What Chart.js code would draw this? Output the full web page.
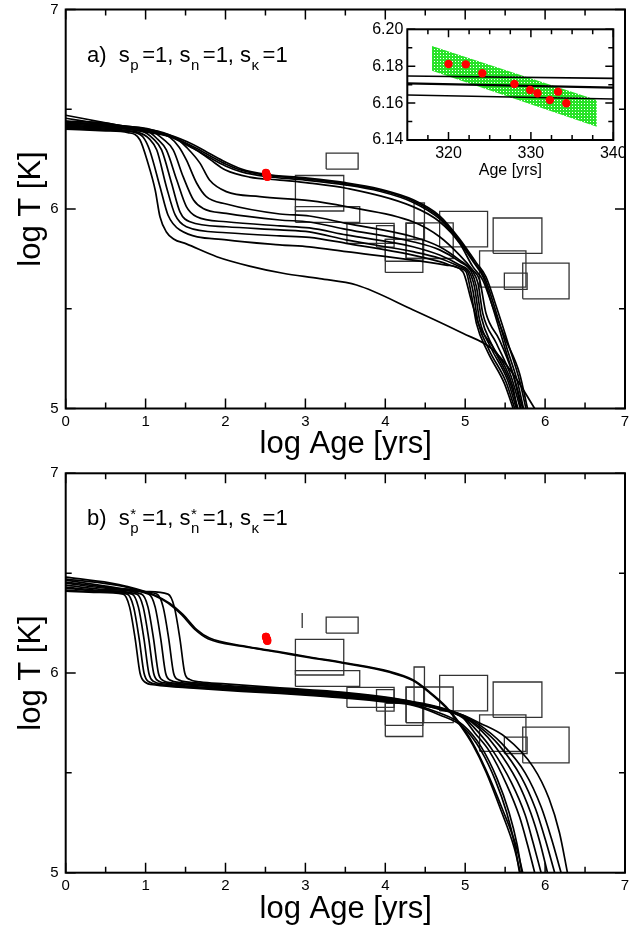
<!DOCTYPE html>
<html>
<head>
<meta charset="utf-8">
<script src="https://cdn.jsdelivr.net/npm/chart.js@4.4.1/dist/chart.umd.min.js"></script>
<style>
  body { margin: 0; background: #fff; }
  #wrap { position: relative; width: 629px; height: 930px; }
  #wrap canvas { position: absolute; }
</style>
</head>
<body>
<div id="wrap">
  <canvas id="panelA" width="629" height="465" style="left:0;top:0"></canvas>
  <canvas id="panelB" width="629" height="465" style="left:0;top:465px"></canvas>
  <canvas id="inset" width="285" height="175" style="left:340px;top:15px"></canvas>
</div>
<script>
// cooling tracks, [log Age, log T]
const tracksA_upper = [
  [[0,6.47],[0.5,6.432],[1.0,6.395],[1.3,6.37],[1.6,6.322],[1.8,6.278],[2.0,6.235],[2.2,6.2],[2.5,6.174],[3.0,6.156],[3.5,6.132],[3.93,6.1],[4.35,6.046],[4.68,5.966],[4.93,5.85],[5.14,5.73],[5.26,5.66],[5.39,5.51],[5.55,5.31],[5.68,5.14],[5.76,5.0]],
  [[0,6.455],[0.5,6.423],[1.0,6.39],[1.3,6.366],[1.6,6.312],[1.8,6.268],[2.0,6.226],[2.2,6.194],[2.5,6.170],[3.0,6.151],[3.5,6.127],[3.93,6.095],[4.35,6.04],[4.68,5.958],[4.93,5.842],[5.12,5.73],[5.24,5.66],[5.37,5.505],[5.52,5.305],[5.65,5.14],[5.73,5.0]],
  [[0,6.44],[0.5,6.415],[1.0,6.386],[1.3,6.362],[1.6,6.303],[1.8,6.258],[2.0,6.216],[2.2,6.186],[2.5,6.163],[3.0,6.145],[3.5,6.121],[3.93,6.089],[4.35,6.033],[4.68,5.95],[4.93,5.834],[5.11,5.73],[5.23,5.655],[5.35,5.5],[5.5,5.3],[5.62,5.14],[5.7,5.0]]
];
const tracksA_lower = [
  [[0,6.40],[0.5,6.392],[0.78,6.383],[0.93,6.346],[1.03,6.229],[1.12,6.095],[1.18,5.961],[1.26,5.885],[1.35,5.85],[1.51,5.825],[1.89,5.761],[2.30,5.714],[2.72,5.678],[3.18,5.651],[3.64,5.619],[4.35,5.494],[4.97,5.377],[5.325,5.302],[5.595,5.176],[5.87,5.0]],
  [[0,6.405],[0.5,6.395],[0.85,6.385],[0.97,6.36],[1.05,6.296],[1.18,6.112],[1.28,5.97],[1.43,5.895],[2.01,5.845],[2.68,5.82],[3.05,5.81],[3.51,5.786],[4.345,5.744],[4.76,5.719],[4.97,5.686],[5.075,5.544],[5.18,5.41],[5.345,5.31],[5.595,5.109],[5.65,5.0]],
  [[0,6.41],[0.5,6.40],[0.9,6.385],[1.05,6.35],[1.14,6.296],[1.26,6.112],[1.37,5.97],[1.51,5.911],[2.01,5.881],[2.68,5.865],[3.05,5.858],[3.51,5.828],[4.345,5.769],[4.68,5.736],[4.93,5.703],[5.01,5.686],[5.075,5.577],[5.14,5.427],[5.28,5.285],[5.49,5.126],[5.6,5.0]],
  [[0,6.415],[0.5,6.405],[0.95,6.39],[1.1,6.35],[1.2,6.296],[1.325,6.129],[1.43,5.986],[1.555,5.936],[2.01,5.911],[2.68,5.895],[3.05,5.885],[3.51,5.845],[4.345,5.786],[4.68,5.753],[4.93,5.711],[5.03,5.686],[5.095,5.594],[5.16,5.435],[5.30,5.293],[5.51,5.134],[5.62,5.0]],
  [[0,6.42],[0.5,6.41],[1.0,6.395],[1.15,6.35],[1.26,6.296],[1.39,6.145],[1.51,6.012],[1.64,5.961],[2.01,5.936],[2.68,5.915],[3.05,5.905],[3.51,5.87],[4.345,5.811],[4.68,5.769],[4.93,5.719],[5.05,5.686],[5.115,5.611],[5.18,5.444],[5.325,5.302],[5.53,5.143],[5.64,5.0]],
  [[0,6.425],[0.5,6.415],[1.05,6.395],[1.22,6.35],[1.345,6.296],[1.47,6.162],[1.60,6.045],[1.72,6.003],[2.01,5.978],[2.68,5.945],[3.05,5.935],[3.51,5.898],[4.345,5.836],[4.68,5.795],[4.93,5.736],[5.075,5.686],[5.14,5.611],[5.2,5.46],[5.345,5.31],[5.55,5.143],[5.66,5.0]],
  [[0,6.43],[0.5,6.42],[1.1,6.395],[1.3,6.36],[1.42,6.31],[1.51,6.246],[1.64,6.129],[1.76,6.062],[2.01,6.025],[2.68,5.975],[3.05,5.965],[3.51,5.928],[4.345,5.861],[4.68,5.811],[4.93,5.744],[5.095,5.686],[5.16,5.628],[5.22,5.477],[5.39,5.327],[5.575,5.16],[5.69,5.0]],
  [[0,6.435],[0.5,6.425],[1.15,6.39],[1.4,6.35],[1.51,6.31],[1.68,6.23],[1.80,6.145],[2.01,6.087],[2.43,6.062],[3.05,6.042],[3.51,6.012],[4.345,5.936],[4.68,5.861],[4.93,5.769],[5.095,5.694],[5.18,5.644],[5.26,5.477],[5.43,5.343],[5.595,5.176],[5.72,5.0]],
  [[0,6.44],[0.5,6.43],[1.0,6.39],[1.3,6.365],[1.6,6.305],[1.8,6.25],[2.0,6.195],[2.3,6.16],[2.68,6.145],[3.05,6.13],[3.51,6.104],[4.345,6.012],[4.68,5.936],[4.93,5.828],[5.095,5.711],[5.22,5.644],[5.345,5.51],[5.51,5.343],[5.68,5.176],[5.78,5.0]]
];
const tracksB_upper = [
  [[0,6.48],[0.55,6.451],[0.76,6.434],[1.10,6.392],[1.30,6.35],[1.47,6.292],[1.64,6.217],[1.80,6.175],[2.22,6.136],[2.64,6.108],[3.05,6.08],[3.51,6.05],[4.05,6.008],[4.345,5.966],[4.55,5.907],[4.76,5.832],[4.93,5.749],[5.095,5.649],[5.26,5.515],[5.47,5.314],[5.64,5.13],[5.72,5.0]],
  [[0,6.47],[0.55,6.445],[0.76,6.43],[1.10,6.39],[1.28,6.35],[1.45,6.292],[1.62,6.217],[1.78,6.172],[2.22,6.133],[2.64,6.105],[3.05,6.077],[3.51,6.047],[4.05,6.004],[4.345,5.962],[4.55,5.902],[4.76,5.826],[4.93,5.742],[5.095,5.64],[5.26,5.505],[5.45,5.31],[5.61,5.13],[5.69,5.0]]
];
const tracksB_lower = [
  [[0,6.41],[0.4,6.404],[0.72,6.395],[0.8,6.33],[0.87,6.17],[0.93,6.0],[0.99,5.955],[1.12,5.94],[1.6,5.924],[2.2,5.908],[2.68,5.898],[3.05,5.888],[3.51,5.874],[4.05,5.853],[4.35,5.838],[4.68,5.79],[4.97,5.73],[5.2,5.61],[5.38,5.46],[5.52,5.3],[5.62,5.14],[5.68,5.0]],
  [[0,6.415],[0.4,6.407],[0.77,6.395],[0.85,6.33],[0.92,6.17],[0.98,6.0],[1.04,5.956],[1.17,5.942],[1.6,5.928],[2.2,5.912],[2.68,5.902],[3.05,5.892],[3.51,5.878],[4.05,5.857],[4.35,5.842],[4.68,5.80],[4.97,5.74],[5.2,5.63],[5.4,5.47],[5.55,5.3],[5.65,5.14],[5.71,5.0]],
  [[0,6.425],[0.45,6.41],[0.83,6.395],[0.91,6.33],[0.98,6.17],[1.04,6.0],[1.1,5.958],[1.23,5.945],[1.6,5.932],[2.2,5.916],[2.68,5.906],[3.05,5.896],[3.51,5.882],[4.05,5.861],[4.35,5.846],[4.68,5.818],[4.97,5.775],[5.12,5.70],[5.30,5.61],[5.52,5.44],[5.68,5.28],[5.78,5.14],[5.87,5.0]],
  [[0,6.43],[0.5,6.412],[0.89,6.395],[0.97,6.33],[1.04,6.17],[1.1,6.0],[1.16,5.96],[1.29,5.948],[1.7,5.935],[2.2,5.92],[2.68,5.91],[3.05,5.9],[3.51,5.886],[4.05,5.865],[4.35,5.848],[4.68,5.82],[4.97,5.78],[5.15,5.71],[5.33,5.62],[5.58,5.45],[5.75,5.29],[5.85,5.15],[5.95,5.0]],
  [[0,6.44],[0.5,6.418],[0.95,6.395],[1.03,6.33],[1.1,6.17],[1.16,6.0],[1.22,5.962],[1.35,5.95],[1.7,5.938],[2.2,5.924],[2.68,5.914],[3.05,5.904],[3.51,5.89],[4.05,5.868],[4.35,5.85],[4.68,5.822],[4.97,5.782],[5.18,5.72],[5.38,5.63],[5.65,5.46],[5.82,5.3],[5.93,5.16],[6.03,5.0]],
  [[0,6.45],[0.5,6.425],[1.04,6.395],[1.12,6.33],[1.19,6.17],[1.25,6.0],[1.31,5.964],[1.44,5.952],[1.8,5.94],[2.2,5.928],[2.68,5.918],[3.05,5.908],[3.51,5.894],[4.05,5.871],[4.35,5.852],[4.68,5.824],[4.97,5.785],[5.18,5.73],[5.42,5.64],[5.7,5.48],[5.88,5.32],[6.0,5.17],[6.12,5.0]],
  [[0,6.455],[0.5,6.43],[1.0,6.405],[1.14,6.395],[1.22,6.33],[1.29,6.17],[1.35,6.0],[1.41,5.966],[1.54,5.954],[1.9,5.942],[2.2,5.932],[2.68,5.922],[3.05,5.912],[3.51,5.898],[4.05,5.874],[4.35,5.854],[4.68,5.826],[4.97,5.788],[5.18,5.74],[5.45,5.65],[5.75,5.5],[5.95,5.33],[6.08,5.17],[6.20,5.0]],
  [[0,6.465],[0.5,6.435],[1.0,6.408],[1.28,6.395],[1.36,6.33],[1.43,6.17],[1.49,6.0],[1.55,5.968],[1.68,5.956],[2.0,5.946],[2.68,5.926],[3.05,5.916],[3.51,5.902],[4.05,5.877],[4.35,5.856],[4.68,5.828],[4.97,5.79],[5.18,5.75],[5.5,5.68],[5.85,5.53],[6.05,5.37],[6.18,5.2],[6.28,5.0]]
];

// observed sources: [logAge min, logAge max, logT min, logT max]
const obsBoxes = [
  [3.26,3.66,6.200,6.280], [2.875,3.48,5.990,6.168], [2.875,3.68,5.933,6.012],
  [3.52,4.11,5.828,5.928], [3.89,4.11,5.809,5.917], [4.00,4.47,5.682,5.848],
  [4.00,4.47,5.738,5.848], [4.26,4.48,5.752,5.928], [4.36,4.49,5.847,6.030],
  [4.26,4.85,5.752,5.930], [4.68,5.28,5.810,5.988], [5.18,5.76,5.608,5.790],
  [5.35,5.96,5.778,5.955], [5.49,5.775,5.597,5.679], [5.72,6.30,5.550,5.729]
];
// single-age source with a temperature range only
const obsBar = [2.96, 6.225, 6.300];

// young remnant: age in years and log T
const youngAges = [320.0, 322.1, 324.1, 328.0, 329.9, 330.8, 332.3, 333.3, 334.3];
const youngLogT = [6.1812, 6.1810, 6.1762, 6.1704, 6.1671, 6.1653, 6.1617, 6.1662, 6.1599];
// allowed band (age, upper and lower edge)
const bandAges = [318, 338];
const bandTop = [6.191, 6.1617];
const bandBottom = [6.1776, 6.1472];
// tracks across the zoomed age window
const zoomAges = [315, 340];
const zoomTracks = [[6.1747, 6.1734], [6.1707, 6.1684], [6.1644, 6.1622]];

// axis ticks
const xMajor = [0, 1, 2, 3, 4, 5, 6, 7];
const xMinor = [0.5, 1.5, 2.5, 3.5, 4.5, 5.5, 6.5];
const yMajor = [5, 6, 7];
const yMinor = [5.5, 6.5];
const insetXMajor = [320, 330, 340];
const insetXMinor = [317.5, 322.5, 325, 327.5, 332.5, 335, 337.5];
const insetYMajor = [6.14, 6.16, 6.18, 6.20];
const insetYMinor = [6.15, 6.17, 6.19];

const FONT = '"Liberation Sans", Arial, Helvetica, sans-serif';

const pts = arr => arr.map(([x, y]) => ({ x, y }));
const boxPath = b => [
  { x: b[0], y: b[2] }, { x: b[1], y: b[2] }, { x: b[1], y: b[3] },
  { x: b[0], y: b[3] }, { x: b[0], y: b[2] }
];

function track(data, width) {
  return {
    data: pts(data), showLine: true, pointRadius: 0, borderColor: '#000',
    borderWidth: width || 1.7, cubicInterpolationMode: 'monotone', fill: false
  };
}

// inward ticks on all four sides plus the frame
function frame(t) {
  return {
    id: 'frame',
    beforeDraw(chart) {
      if (!t.whiteArea) return;
      const a = chart.chartArea, ctx = chart.ctx;
      ctx.save();
      ctx.fillStyle = '#fff';
      ctx.fillRect(a.left, a.top, a.width, a.height);
      ctx.restore();
    },
    afterDraw(chart) {
      const { ctx, chartArea: a } = chart;
      const sx = chart.scales.x, sy = chart.scales.y;
      ctx.save();
      ctx.strokeStyle = '#000';
      ctx.lineWidth = 1.5;
      ctx.beginPath();
      const xt = (vals, len) => vals.forEach(v => {
        const p = sx.getPixelForValue(v);
        ctx.moveTo(p, a.bottom); ctx.lineTo(p, a.bottom - len);
        ctx.moveTo(p, a.top); ctx.lineTo(p, a.top + len);
      });
      const yt = (vals, len) => vals.forEach(v => {
        const p = sy.getPixelForValue(v);
        ctx.moveTo(a.left, p); ctx.lineTo(a.left + len, p);
        ctx.moveTo(a.right, p); ctx.lineTo(a.right - len, p);
      });
      xt(t.xMajor, t.major); xt(t.xMinor, t.minor);
      yt(t.yMajor, t.major); yt(t.yMinor, t.minor);
      ctx.stroke();
      ctx.lineWidth = 2;
      ctx.strokeRect(a.left, a.top, a.width, a.height);
      ctx.restore();
    }
  };
}

// label with sub/superscripts: plain runs {t}, script runs {sub, sup}
function drawRuns(ctx, x, y, runs) {
  let cx = x;
  runs.forEach(r => {
    if (r.t) {
      ctx.font = '22px ' + FONT;
      ctx.fillText(r.t, cx, y);
      cx += ctx.measureText(r.t).width;
    } else {
      ctx.font = '15px ' + FONT;
      let w = 0;
      if (r.sub) { ctx.fillText(r.sub, cx + 0.5, y + 8); w = ctx.measureText(r.sub).width; }
      if (r.sup) { ctx.fillText(r.sup, cx + 0.5, y - 6); w = Math.max(w, ctx.measureText(r.sup).width); }
      cx += w + 4;
    }
  });
}

function texts(t) {
  return {
    id: 'texts',
    afterDraw(chart) {
      const ctx = chart.ctx;
      ctx.save();
      ctx.fillStyle = '#000';
      ctx.textBaseline = 'alphabetic';
      ctx.textAlign = 'center';
      ctx.font = t.titleSize + 'px ' + FONT;
      ctx.fillText(t.xTitle, t.xTitlePos[0], t.xTitlePos[1]);
      if (t.yTitle) {
        ctx.save();
        ctx.translate(t.yTitlePos[0], t.yTitlePos[1]);
        ctx.rotate(-Math.PI / 2);
        ctx.textBaseline = 'middle';
        ctx.fillText(t.yTitle, 0, 0);
        ctx.restore();
      }
      if (t.label) {
        ctx.textAlign = 'left';
        drawRuns(ctx, t.labelPos[0], t.labelPos[1], t.label);
      }
      ctx.restore();
    }
  };
}

function axes(o) {
  const common = {
    type: 'linear',
    border: { display: false },
    grid: { display: false, drawTicks: false }
  };
  return {
    x: Object.assign({}, common, {
      min: o.xMin, max: o.xMax,
      afterBuildTicks: s => { s.ticks = o.xTicks.map(v => ({ value: v })); },
      ticks: { padding: o.xPad, color: '#000', autoSkip: false, maxRotation: 0,
               font: { family: FONT, size: o.tickSize }, callback: o.xFmt },
      afterFit: s => { s.height = o.xHeight; s.paddingLeft = 0; s.paddingRight = 0; }
    }),
    y: Object.assign({}, common, {
      min: o.yMin, max: o.yMax,
      afterBuildTicks: s => { s.ticks = o.yTicks.map(v => ({ value: v })); },
      ticks: { padding: o.yPad, color: '#000', autoSkip: false,
               font: { family: FONT, size: o.tickSize }, callback: o.yFmt },
      afterFit: s => { s.width = o.yWidth; s.paddingTop = 0; s.paddingBottom = 0; }
    })
  };
}

function mainPanel(id, upper, lower, withBar, topPad, xHeight, label, yTitleY) {
  const datasets = [];
  datasets.push({
    data: youngAges.map((a, i) => ({ x: Math.log10(a), y: youngLogT[i] })),
    pointRadius: 4, pointBackgroundColor: '#f00', pointBorderWidth: 0, showLine: false
  });
  upper.forEach(tr => datasets.push(track(tr)));
  lower.forEach(tr => datasets.push(track(tr)));
  obsBoxes.forEach(b => datasets.push({
    data: boxPath(b), showLine: true, pointRadius: 0, borderColor: '#333',
    borderWidth: 1.3, tension: 0, fill: false
  }));
  if (withBar) {
    datasets.push({
      data: [{ x: obsBar[0], y: obsBar[1] }, { x: obsBar[0], y: obsBar[2] }],
      showLine: true, pointRadius: 0, borderColor: '#333', borderWidth: 1.3, fill: false
    });
  }
  return new Chart(document.getElementById(id), {
    type: 'scatter',
    data: { datasets },
    options: {
      responsive: false, animation: false, devicePixelRatio: 1,
      layout: { padding: { left: 0, right: 3.3, top: topPad, bottom: 0 } },
      plugins: { legend: { display: false }, tooltip: { enabled: false } },
      scales: axes({
        xMin: 0, xMax: 7, yMin: 5, yMax: 7, xTicks: xMajor, yTicks: yMajor,
        xFmt: v => String(v), yFmt: v => String(v), tickSize: 15,
        xPad: 4, yPad: 7, xHeight: xHeight, yWidth: 65.7
      })
    },
    plugins: [
      frame({ xMajor, xMinor, yMajor, yMinor, major: 10, minor: 6 }),
      texts({
        titleSize: 31, xTitle: 'log Age [yrs]', xTitlePos: [345.7, 453],
        yTitle: 'log T [K]', yTitlePos: [31, yTitleY],
        label: label, labelPos: [87, topPad + 52]
      })
    ]
  });
}

mainPanel('panelA', tracksA_upper, tracksA_lower, false, 9.5, 56.5,
  [{ t: 'a)  s' }, { sub: 'p' }, { t: '=1, s' }, { sub: 'n' }, { t: '=1, s' }, { sub: 'κ' }, { t: '=1' }], 209);

mainPanel('panelB', tracksB_upper, tracksB_lower, true, 8.3, 57.3,
  [{ t: 'b)  s' }, { sup: '*', sub: 'p' }, { t: '=1, s' }, { sup: '*', sub: 'n' }, { t: '=1, s' }, { sub: 'κ' }, { t: '=1' }], 208);

// dotted green fill for the allowed band
function dotPattern() {
  const c = document.createElement('canvas');
  c.width = 3; c.height = 3;
  const g = c.getContext('2d');
  g.fillStyle = '#27e327';
  g.fillRect(0, 0, 3, 3);
  g.fillStyle = '#ffffff';
  g.fillRect(1, 1, 1, 1);
  return g.createPattern(c, 'repeat');
}

const insetSets = [];
insetSets.push({
  data: youngAges.map((a, i) => ({ x: a, y: youngLogT[i] })),
  pointRadius: 4.2, pointBackgroundColor: '#f00', pointBorderWidth: 0, showLine: false
});
zoomTracks.forEach((tr, i) => insetSets.push({
  data: zoomAges.map((a, j) => ({ x: a, y: tr[j] })),
  showLine: true, pointRadius: 0, borderColor: '#000', borderWidth: i === 1 ? 2.2 : 1.6, fill: false
}));
insetSets.push({
  data: bandAges.map((a, j) => ({ x: a, y: bandTop[j] })),
  showLine: true, pointRadius: 0, borderWidth: 0, borderColor: 'rgba(0,0,0,0)',
  backgroundColor: dotPattern(), fill: '+1'
});
insetSets.push({
  data: bandAges.map((a, j) => ({ x: a, y: bandBottom[j] })),
  showLine: true, pointRadius: 0, borderWidth: 0, borderColor: 'rgba(0,0,0,0)', fill: false
});

new Chart(document.getElementById('inset'), {
  type: 'scatter',
  data: { datasets: insetSets },
  options: {
    responsive: false, animation: false, devicePixelRatio: 1,
    layout: { padding: { left: 0, right: 11.7, top: 14.3, bottom: 0 } },
    plugins: { legend: { display: false }, tooltip: { enabled: false } },
    scales: axes({
      xMin: 315, xMax: 340, yMin: 6.14, yMax: 6.20, xTicks: insetXMajor, yTicks: insetYMajor,
      xFmt: v => String(v), yFmt: v => v.toFixed(2), tickSize: 16,
      xPad: 4, yPad: 4, xHeight: 50, yWidth: 67.3
    })
  },
  plugins: [
    frame({ xMajor: insetXMajor, xMinor: insetXMinor, yMajor: insetYMajor, yMinor: insetYMinor,
            major: 8, minor: 5, whiteArea: true }),
    texts({ titleSize: 16, xTitle: 'Age [yrs]', xTitlePos: [170.3, 159.5] })
  ]
});
</script>
</body>
</html>
